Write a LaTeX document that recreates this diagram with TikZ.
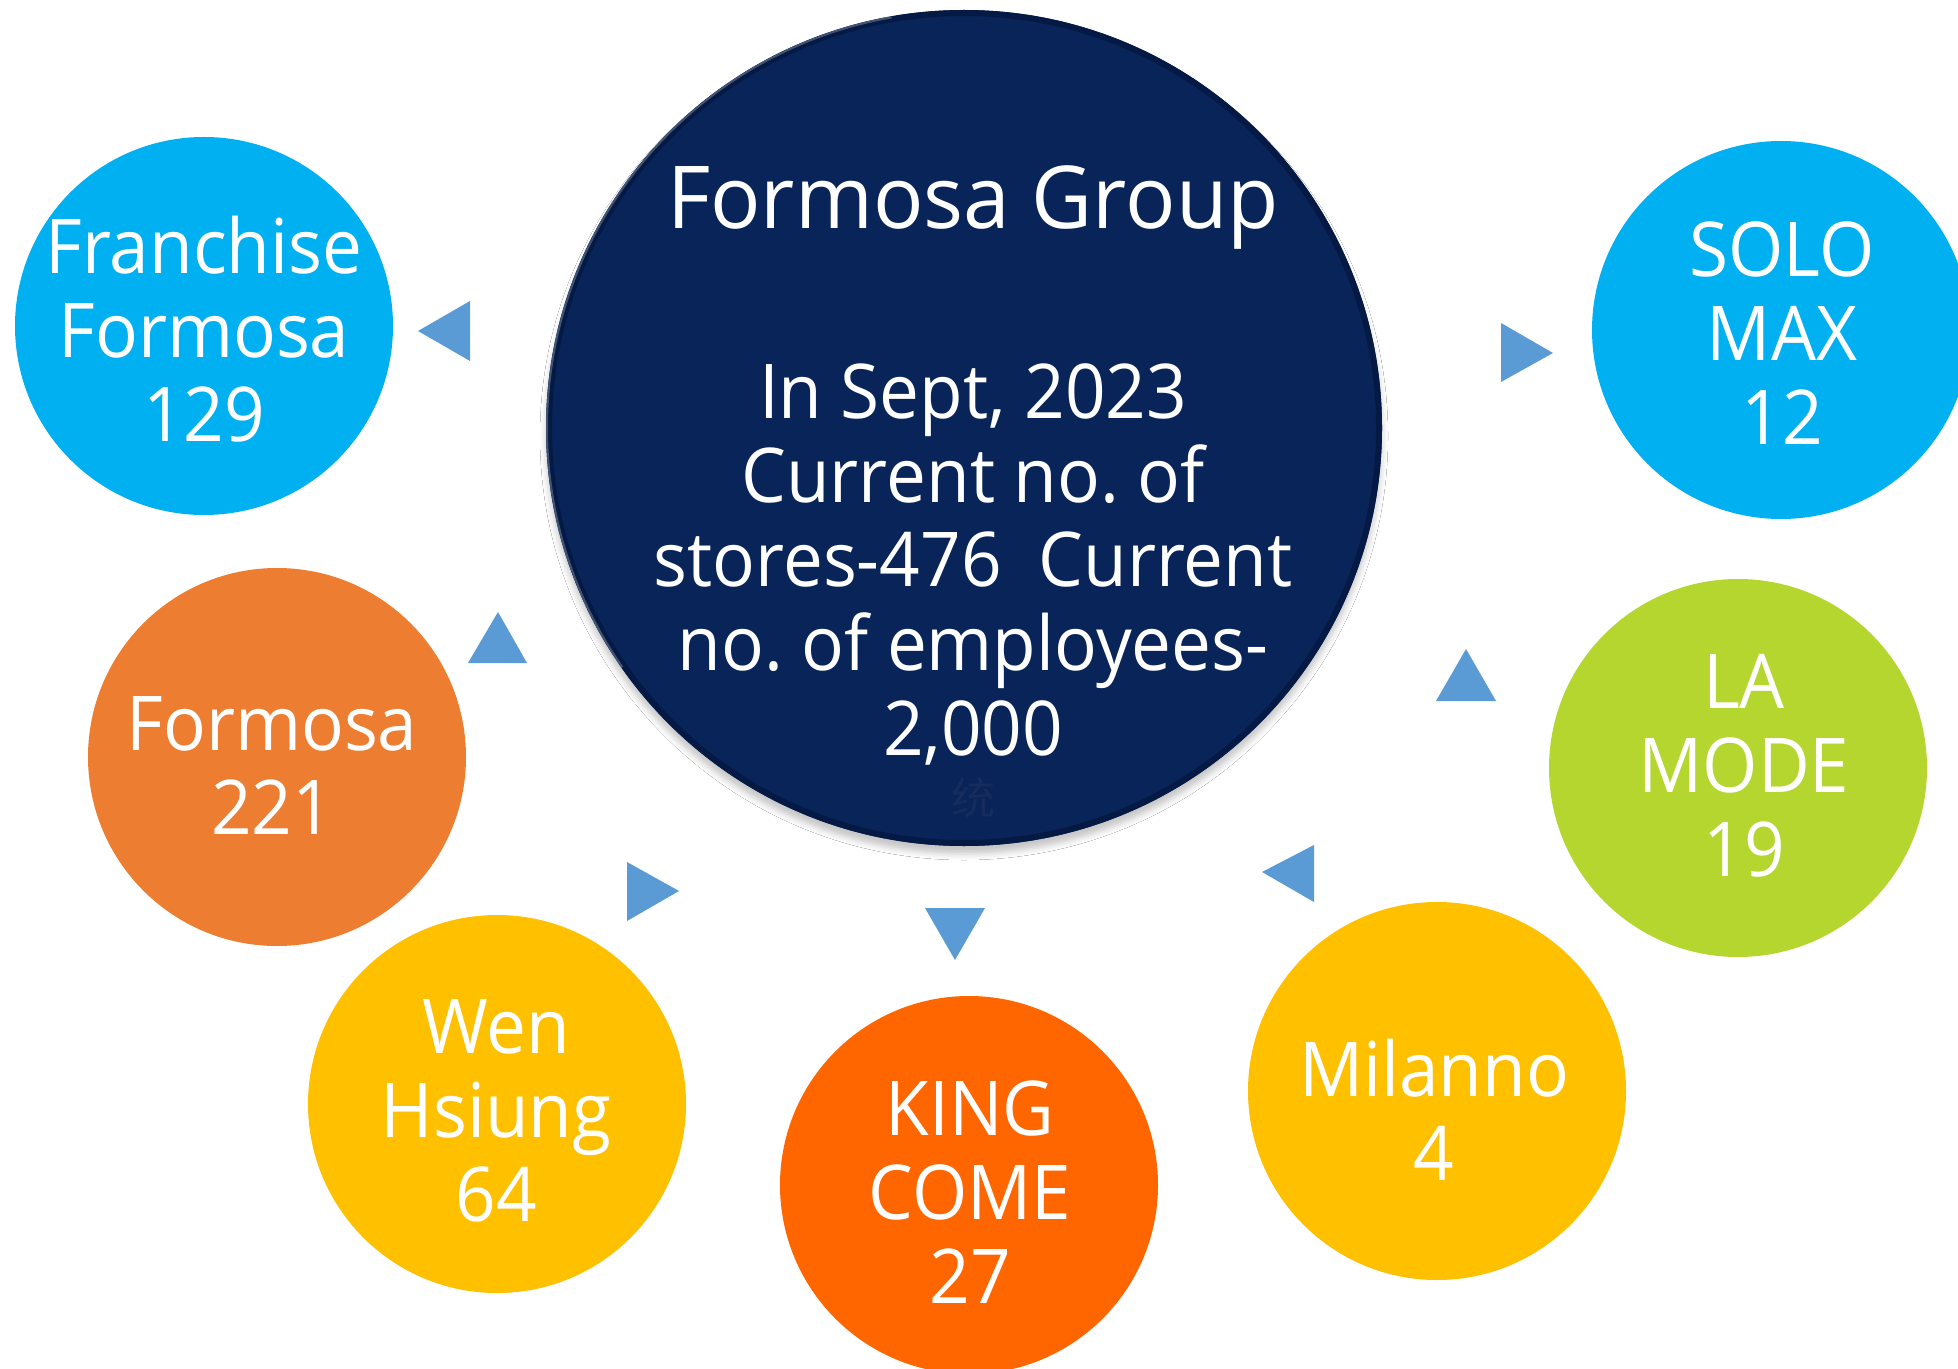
\documentclass[tikz,border=0pt]{standalone}
\usepackage{fontspec}
\setmainfont{Open Sans}[FakeStretch=0.94]
\newfontfamily\titlefont{Open Sans}[FakeStretch=0.965]
\newfontfamily\cjk{Noto Sans CJK SC}
\usetikzlibrary{shadows.blur}
\frenchspacing

\definecolor{navy}{HTML}{082458}
\definecolor{navyedge}{HTML}{041A45}
\definecolor{faintmark}{HTML}{152C5C}
\definecolor{skyblue}{HTML}{00B0F0}
\definecolor{tangerine}{HTML}{ED7D31}
\definecolor{gold}{HTML}{FFC000}
\definecolor{flame}{HTML}{FF6600}
\definecolor{lime}{HTML}{B4D62E}
\definecolor{pointer}{HTML}{5B9BD5}

\newcommand\stack[1]{\begin{tabular}[t]{@{}c@{}}#1\end{tabular}}

\tikzset{
  disc/.style={circle, inner sep=0pt, minimum size=189pt},
  pointerfill/.style={fill=pointer, draw=none},
  lbl/.style={anchor=base, inner sep=0pt, text=white,
              font=\fontsize{37.8pt}{42pt}\selectfont},
}

\begin{document}
\begin{tikzpicture}[x=0.5pt, y=-0.5pt]
  \useasboundingbox (0,0) rectangle (1958,1369);
  \fill[white] (0,0) rectangle (1958,1369);

  % central group disc with a soft shadow and a bevelled rim
  \node[circle, inner sep=0pt, minimum size=418pt, fill=navy,
        blur shadow={shadow xshift=0pt, shadow yshift=-4pt,
                     shadow blur radius=3pt, shadow opacity=22}]
        (grp) at (964,428) {};
  \draw[navyedge, line width=3pt] (grp.center) circle[radius=207.5pt];
  \draw[white, opacity=0.25, line width=1pt]
        ([shift={(100:208.5pt)}]grp.center) arc[start angle=100, end angle=215, radius=208.5pt];

  \node[lbl, font=\titlefont\fontsize{43.4pt}{48pt}\selectfont] (grp-title) at (973,229) {Formosa Group};
  \node[lbl, font=\fontsize{37.8pt}{42.15pt}\selectfont] (grp-text) at (973,418)
        {\stack{In Sept, 2023\\ Current no. of\\ stores-476\ \ Current\\ no. of employees-\\ 2,000}};
  \node[inner sep=0pt, text=faintmark, font=\cjk\fontsize{22pt}{24pt}\selectfont]
        (grp-mark) at (973,798) {统};

  % brand discs
  \node[disc, fill=skyblue]   (fr) at (204,326)  {};
  \node[disc, fill=tangerine] (fm) at (277,757)  {};
  \node[disc, fill=gold]      (wh) at (497,1104) {};
  \node[disc, fill=flame]     (kc) at (969,1185) {};
  \node[disc, fill=gold]      (ml) at (1437,1091) {};
  \node[disc, fill=lime]      (lm) at (1738,768) {};
  \node[disc, fill=skyblue]   (sm) at (1781,330) {};

  \node[lbl] (fr-t) at (204,274)  {\stack{Franchise\\ Formosa\\ 129}};
  \node[lbl] (fm-t) at (272,750)  {\stack{Formosa\\ 221}};
  \node[lbl] (wh-t) at (496,1053) {\stack{Wen\\ Hsiung\\ 64}};
  \node[lbl] (kc-t) at (970,1135) {\stack{KING\\ COME\\ 27}};
  \node[lbl] (ml-t) at (1434,1096) {\stack{Milanno\\ 4}};
  \node[lbl] (lm-t) at (1744,708) {\stack{LA\\ MODE\\ 19}};
  \node[lbl] (sm-t) at (1782,277) {\stack{SOLO\\ MAX\\ 12}};

  % pointers from the group disc towards the brands
  \fill[pointerfill] (418,331) -- (470,301) -- (470,361) -- cycle;
  \fill[pointerfill] (1501,323) -- (1553,353) -- (1501,382) -- cycle;
  \fill[pointerfill] (498,612) -- (527,663) -- (468,663) -- cycle;
  \fill[pointerfill] (627,862) -- (679,891) -- (627,921) -- cycle;
  \fill[pointerfill] (925,908) -- (985,908) -- (955,960) -- cycle;
  \fill[pointerfill] (1262,872) -- (1314,845) -- (1314,902) -- cycle;
  \fill[pointerfill] (1466,649) -- (1496,701) -- (1436,701) -- cycle;
\end{tikzpicture}
\end{document}
